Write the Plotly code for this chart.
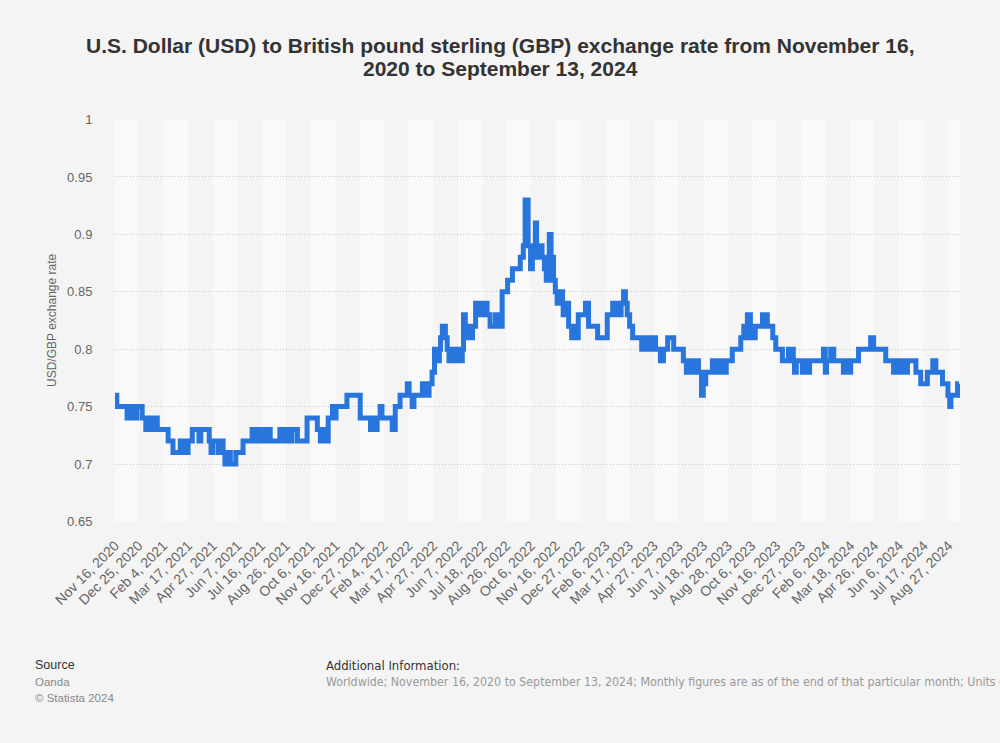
import plotly.graph_objects as go

# ---- data (value changes of the step series) ----
dates = [
    "2020-11-16", "2020-11-19", "2020-12-06", "2020-12-09", "2020-12-17", "2020-12-22", "2020-12-31",
    "2021-01-06", "2021-01-10", "2021-01-15", "2021-01-18", "2021-01-25", "2021-02-12", "2021-02-20",
    "2021-03-04", "2021-03-12", "2021-03-17", "2021-03-24", "2021-04-04", "2021-04-07", "2021-04-21",
    "2021-04-24", "2021-04-27", "2021-05-06", "2021-05-09", "2021-05-14", "2021-05-17", "2021-05-22",
    "2021-05-26", "2021-06-04", "2021-06-16", "2021-07-01", "2021-07-09", "2021-07-13", "2021-07-21",
    "2021-07-24", "2021-07-31", "2021-08-16", "2021-08-23", "2021-08-26", "2021-09-02", "2021-09-05",
    "2021-09-14", "2021-09-30", "2021-10-17", "2021-10-22", "2021-10-25", "2021-11-01", "2021-11-04",
    "2021-11-11", "2021-11-14", "2021-11-17", "2021-12-05", "2021-12-27", "2022-01-13", "2022-01-18",
    "2022-01-21", "2022-01-24", "2022-01-29", "2022-02-01", "2022-02-18", "2022-02-23", "2022-03-03",
    "2022-03-15", "2022-03-18", "2022-03-23", "2022-03-26", "2022-04-09", "2022-04-17", "2022-04-20",
    "2022-04-25", "2022-04-29", "2022-05-04", "2022-05-07", "2022-05-09", "2022-05-12", "2022-05-17",
    "2022-05-20", "2022-05-23", "2022-05-28", "2022-06-01", "2022-06-07", "2022-06-11", "2022-06-14",
    "2022-06-16", "2022-06-19", "2022-06-22", "2022-06-26", "2022-06-27", "2022-07-01", "2022-07-06",
    "2022-07-12", "2022-07-17", "2022-07-25", "2022-07-30", "2022-08-08", "2022-08-11", "2022-08-19",
    "2022-08-28", "2022-09-05", "2022-09-18", "2022-09-23", "2022-09-26", "2022-10-01", "2022-10-05",
    "2022-10-08", "2022-10-10", "2022-10-13", "2022-10-15", "2022-10-20", "2022-10-21", "2022-10-24",
    "2022-10-28", "2022-10-31", "2022-11-05", "2022-11-08", "2022-11-12", "2022-11-15", "2022-11-18",
    "2022-11-20", "2022-11-27", "2022-11-28", "2022-12-02", "2022-12-07", "2022-12-12", "2022-12-15",
    "2022-12-20", "2022-12-23", "2023-01-04", "2023-01-09", "2023-01-24", "2023-02-09", "2023-02-18",
    "2023-02-23", "2023-02-26", "2023-03-01", "2023-03-04", "2023-03-08", "2023-03-11", "2023-03-14",
    "2023-03-18", "2023-03-23", "2023-04-07", "2023-04-10", "2023-04-15", "2023-04-18", "2023-04-22",
    "2023-04-25", "2023-04-30", "2023-05-08", "2023-05-13", "2023-05-20", "2023-05-30", "2023-06-15",
    "2023-06-20", "2023-06-27", "2023-07-02", "2023-07-05", "2023-07-10", "2023-07-15", "2023-07-18",
    "2023-07-22", "2023-08-02", "2023-08-06", "2023-08-09", "2023-08-15", "2023-08-19", "2023-08-24",
    "2023-08-25", "2023-09-04", "2023-09-18", "2023-09-23", "2023-09-26", "2023-09-29", "2023-10-04",
    "2023-10-07", "2023-10-12", "2023-10-24", "2023-11-01", "2023-11-10", "2023-11-15", "2023-11-26",
    "2023-12-06", "2023-12-14", "2023-12-16", "2023-12-19", "2023-12-29", "2023-12-31", "2024-01-07",
    "2024-01-10", "2024-02-02", "2024-02-05", "2024-02-07", "2024-02-14", "2024-02-19", "2024-03-06",
    "2024-03-10", "2024-03-15", "2024-03-18", "2024-03-31", "2024-04-20", "2024-04-25", "2024-05-15",
    "2024-05-28", "2024-06-05", "2024-06-12", "2024-06-20", "2024-07-04", "2024-07-12", "2024-07-23",
    "2024-08-01", "2024-08-06", "2024-08-17", "2024-08-26", "2024-08-29", "2024-08-31", "2024-09-11",
    "2024-09-13",
]
rates = [
    0.76, 0.75, 0.74, 0.75, 0.74, 0.75, 0.74,
    0.73, 0.74, 0.73, 0.74, 0.73, 0.72, 0.71,
    0.72, 0.71, 0.72, 0.73, 0.72, 0.73, 0.72,
    0.71, 0.72, 0.71, 0.72, 0.71, 0.70, 0.71,
    0.70, 0.71, 0.72, 0.73, 0.72, 0.73, 0.72,
    0.73, 0.72, 0.73, 0.72, 0.73, 0.72, 0.73,
    0.72, 0.74, 0.73, 0.72, 0.73, 0.72, 0.74,
    0.75, 0.74, 0.75, 0.76, 0.74, 0.73, 0.74,
    0.73, 0.74, 0.75, 0.74, 0.73, 0.75, 0.76,
    0.77, 0.76, 0.75, 0.76, 0.77, 0.76, 0.77,
    0.78, 0.80, 0.79, 0.80, 0.81, 0.82, 0.81,
    0.80, 0.79, 0.80, 0.79, 0.80, 0.79, 0.80,
    0.83, 0.82, 0.81, 0.82, 0.81, 0.82, 0.84,
    0.83, 0.84, 0.83, 0.82, 0.83, 0.82, 0.85,
    0.86, 0.87, 0.88, 0.89, 0.93, 0.89, 0.87,
    0.89, 0.88, 0.91, 0.89, 0.88, 0.89, 0.88,
    0.87, 0.86, 0.90, 0.88, 0.86, 0.85, 0.84,
    0.85, 0.84, 0.83, 0.84, 0.82, 0.81, 0.82,
    0.81, 0.83, 0.84, 0.82, 0.81, 0.83, 0.84,
    0.83, 0.84, 0.83, 0.84, 0.85, 0.84, 0.83,
    0.82, 0.81, 0.80, 0.81, 0.80, 0.81, 0.80,
    0.81, 0.80, 0.79, 0.80, 0.81, 0.80, 0.79,
    0.78, 0.79, 0.78, 0.79, 0.78, 0.76, 0.77,
    0.78, 0.79, 0.78, 0.79, 0.78, 0.79, 0.78,
    0.79, 0.80, 0.81, 0.82, 0.81, 0.83, 0.82,
    0.81, 0.82, 0.83, 0.82, 0.81, 0.80, 0.79,
    0.80, 0.79, 0.78, 0.79, 0.78, 0.79, 0.78,
    0.79, 0.80, 0.78, 0.79, 0.80, 0.79, 0.78,
    0.79, 0.78, 0.79, 0.80, 0.81, 0.80, 0.79,
    0.78, 0.79, 0.78, 0.79, 0.78, 0.77, 0.78,
    0.79, 0.78, 0.77, 0.76, 0.75, 0.76, 0.77,
    0.77,
]

tick_dates = [
    "2020-11-16", "2020-12-25", "2021-02-04", "2021-03-17", "2021-04-27", "2021-06-07",
    "2021-07-16", "2021-08-26", "2021-10-06", "2021-11-16", "2021-12-27", "2022-02-04",
    "2022-03-17", "2022-04-27", "2022-06-07", "2022-07-18", "2022-08-26", "2022-10-06",
    "2022-11-16", "2022-12-27", "2023-02-06", "2023-03-17", "2023-04-27", "2023-06-07",
    "2023-07-18", "2023-08-28", "2023-10-06", "2023-11-16", "2023-12-27", "2024-02-06",
    "2024-03-18", "2024-04-26", "2024-06-06", "2024-07-17", "2024-08-27",
]
tick_labels = [
    "Nov 16, 2020", "Dec 25, 2020", "Feb 4, 2021", "Mar 17, 2021", "Apr 27, 2021", "Jun 7, 2021",
    "Jul 16, 2021", "Aug 26, 2021", "Oct 6, 2021", "Nov 16, 2021", "Dec 27, 2021", "Feb 4, 2022",
    "Mar 17, 2022", "Apr 27, 2022", "Jun 7, 2022", "Jul 18, 2022", "Aug 26, 2022", "Oct 6, 2022",
    "Nov 16, 2022", "Dec 27, 2022", "Feb 6, 2023", "Mar 17, 2023", "Apr 27, 2023", "Jun 7, 2023",
    "Jul 18, 2023", "Aug 28, 2023", "Oct 6, 2023", "Nov 16, 2023", "Dec 27, 2023", "Feb 6, 2024",
    "Mar 18, 2024", "Apr 26, 2024", "Jun 6, 2024", "Jul 17, 2024", "Aug 27, 2024",
]
y_ticks = [0.65, 0.7, 0.75, 0.8, 0.85, 0.9, 0.95, 1.0]
y_labels = ["0.65", "0.7", "0.75", "0.8", "0.85", "0.9", "0.95", "1"]

title_lines = ["U.S. Dollar (USD) to British pound sterling (GBP) exchange rate from November 16,",
               "2020 to September 13, 2024"]
x_start, x_end = "2020-11-16", "2024-09-15"

# ---- layout constants ----
W, H = 1000, 743
L, R, T, B = 115, 40, 119, 221
PW, PH = W - L - R, H - T - B
FONT = "Liberation Sans, Arial, sans-serif"
NARROW = "Liberation Sans Narrow, Arial Narrow, DejaVu Sans Condensed, sans-serif"


def px(xp):
    return (xp - L) / PW


def py(yp):
    return (H - B - yp) / PH


fig = go.Figure()
fig.add_trace(go.Scatter(
    x=dates, y=rates, mode="lines",
    line=dict(color="#2876DD", width=5, shape="hv"),
    hoverinfo="skip", showlegend=False,
))

shapes = []
for i in range(0, len(tick_dates), 2):
    x0 = tick_dates[i]
    x1 = tick_dates[i + 1] if i + 1 < len(tick_dates) else x_end
    shapes.append(dict(type="rect", xref="x", yref="paper", x0=x0, x1=x1, y0=0, y1=1,
                       fillcolor="#f9f9f9", line=dict(width=0), layer="below"))

annotations = [
    dict(text="<b>%s</b>" % title_lines[0], x=px(500), y=py(46), xref="paper", yref="paper",
         xanchor="center", yanchor="middle", showarrow=False,
         font=dict(family=FONT, size=21, color="#333333")),
    dict(text="<b>%s</b>" % title_lines[1], x=px(500), y=py(69), xref="paper", yref="paper",
         xanchor="center", yanchor="middle", showarrow=False,
         font=dict(family=FONT, size=21, color="#333333")),
    dict(text="Source", x=px(33), y=py(665), xref="paper", yref="paper", xanchor="left",
         yanchor="middle", showarrow=False, font=dict(family=FONT, size=12.5, color="#333333")),
    dict(text="Oanda", x=px(33), y=py(682), xref="paper", yref="paper", xanchor="left",
         yanchor="middle", showarrow=False, font=dict(family=FONT, size=11.5, color="#888888")),
    dict(text="© Statista 2024", x=px(33), y=py(698), xref="paper", yref="paper", xanchor="left",
         yanchor="middle", showarrow=False, font=dict(family=FONT, size=11.5, color="#888888")),
    dict(text="Additional Information:", x=px(324), y=py(665), xref="paper", yref="paper",
         xanchor="left", yanchor="middle", showarrow=False,
         font=dict(family=NARROW, size=13, color="#333333")),
    dict(text="Worldwide; November 16, 2020 to September 13, 2024; Monthly figures are as of the end "
              "of that particular month; Units of measurement: USD to GBP",
         x=px(324), y=py(682), xref="paper", yref="paper", xanchor="left", yanchor="middle",
         showarrow=False, font=dict(family=NARROW, size=12.3, color="#999999")),
    dict(text="USD/GBP exchange rate", x=px(52), y=py(320), xref="paper", yref="paper",
         textangle=-90, xanchor="center", yanchor="middle", showarrow=False,
         font=dict(family=FONT, size=12, color="#666666")),
]

fig.update_layout(
    width=W, height=H,
    margin=dict(l=L, r=R, t=T, b=B, autoexpand=False),
    paper_bgcolor="#f4f4f4", plot_bgcolor="#f4f4f4",
    font=dict(family=FONT, size=12, color="#666666"),
    shapes=shapes,
    annotations=annotations,
    xaxis=dict(type="date", range=[x_start, x_end], tickvals=tick_dates, ticktext=tick_labels,
               tickangle=-45, showgrid=False, zeroline=False, showline=False,
               ticks="outside", ticklen=9, tickcolor="rgba(0,0,0,0)",
               tickfont=dict(family=FONT, size=14, color="#666666")),
    yaxis=dict(range=[0.6495, 1.0005], tickvals=y_ticks, ticktext=y_labels,
               showgrid=True, gridcolor="#c8c8c8", griddash="1px,2px", gridwidth=1,
               zeroline=False, showline=False,
               ticks="outside", ticklen=19, tickcolor="rgba(0,0,0,0)",
               tickfont=dict(family=FONT, size=13, color="#666666")),
)

fig.write_html("out.html", config={"displayModeBar": False},
               post_script="document.body.style.margin='0px';")
